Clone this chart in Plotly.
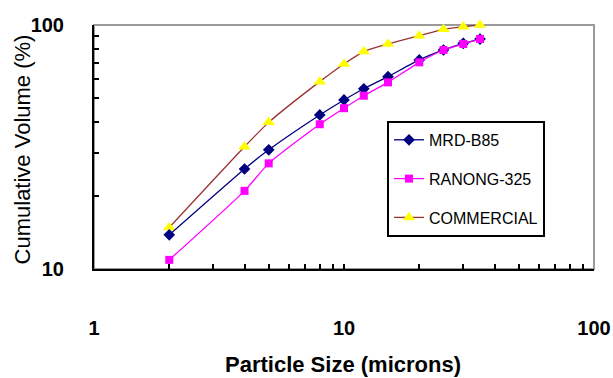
import plotly.graph_objects as go

# ---- data ----
particle_size = [2, 4, 5, 8, 10, 12, 15, 20, 25, 30, 35]
mrd_b85 = [13.8, 25.7, 30.8, 42.8, 49.3, 54.8, 61.4, 71.9, 79.0, 84.1, 87.6]
ranong_325 = [10.9, 20.9, 27.1, 39.2, 45.6, 51.3, 58.2, 70.3, 79.0, 83.6, 87.6]
commercial = [14.8, 31.7, 39.9, 58.6, 69.2, 77.8, 83.6, 90.4, 96.0, 98.4, 100.0]

x_tick_vals = [1, 2, 3, 4, 5, 6, 7, 8, 9, 10, 20, 30, 40, 50, 60, 70, 80, 90, 100]
x_tick_text = ["1"] + [""] * 8 + ["10"] + [""] * 8 + ["100"]
y_tick_vals = [10, 20, 30, 40, 50, 60, 70, 80, 90, 100]
y_tick_text = ["10"] + [""] * 8 + ["100"]

FONT = "Liberation Sans, Arial, sans-serif"

fig = go.Figure()

fig.add_trace(go.Scatter(
    x=particle_size, y=commercial, name="COMMERCIAL", mode="lines+markers",
    line=dict(color="#993333", width=1.3, shape="spline", smoothing=0.6),
    marker=dict(symbol="triangle-up", size=11, color="#FFFF00"),
    legendrank=3, legendgroup="c", cliponaxis=False))
fig.add_trace(go.Scatter(
    x=particle_size, y=mrd_b85, name="MRD-B85", mode="lines+markers",
    line=dict(color="#000080", width=1.3, shape="spline", smoothing=0.6),
    marker=dict(symbol="diamond", size=9, color="#000080"),
    legendrank=1, legendgroup="a", cliponaxis=False))
fig.add_trace(go.Scatter(
    x=particle_size, y=ranong_325, name="RANONG-325", mode="lines+markers",
    line=dict(color="#FF00FF", width=1.3, shape="spline", smoothing=0.6),
    marker=dict(symbol="square", size=8, color="#FF00FF"),
    legendrank=2, legendgroup="b", cliponaxis=False))

fig.update_layout(
    width=613, height=378,
    margin=dict(l=94, r=19, t=25, b=109, autoexpand=False),
    paper_bgcolor="white", plot_bgcolor="white",
    showlegend=True,
    legend=dict(
        x=0.586, y=0.607, xanchor="left", yanchor="top",
        bgcolor="white", bordercolor="black", borderwidth=2,
        font=dict(family=FONT, size=16, color="black"),
        traceorder="grouped", tracegroupgap=15,
    ),
    shapes=[dict(type="rect", xref="x domain", yref="y domain",
                 x0=0, x1=1, y0=0, y1=1,
                 line=dict(color="#9A9A9A", width=2), layer="below")],
    annotations=[
        dict(text="Cumulative Volume (%)", xref="paper", yref="paper",
             x=-0.144, y=0.49, xanchor="center", yanchor="middle",
             textangle=-90, showarrow=False,
             font=dict(family=FONT, size=22, color="black")),
        dict(text="Particle Size (microns)", xref="paper", yref="paper",
             x=0.498, y=-0.39, xanchor="center", yanchor="middle",
             showarrow=False,
             font=dict(family=FONT, size=22, color="black", weight="bold")),
    ],
)

fig.update_xaxes(
    type="log", range=[0, 2], automargin=False,
    tickmode="array", tickvals=x_tick_vals, ticktext=x_tick_text,
    ticks="inside", ticklen=5, tickwidth=1.5, tickcolor="black",
    showline=True, linecolor="black", linewidth=2,
    showgrid=False, zeroline=False,
    tickfont=dict(family=FONT, size=20, color="black", weight="bold"),
    ticklabelstandoff=40,
)
fig.update_yaxes(
    type="log", range=[1, 2], automargin=False,
    tickmode="array", tickvals=y_tick_vals, ticktext=y_tick_text,
    ticks="inside", ticklen=5, tickwidth=1.5, tickcolor="black",
    showline=True, linecolor="black", linewidth=2,
    showgrid=False, zeroline=False,
    tickfont=dict(family=FONT, size=20, color="black", weight="bold"),
    ticklabelstandoff=24,
)

fig.write_html("out.html", config={"displayModeBar": False},
               post_script="document.body.style.margin='0';")
